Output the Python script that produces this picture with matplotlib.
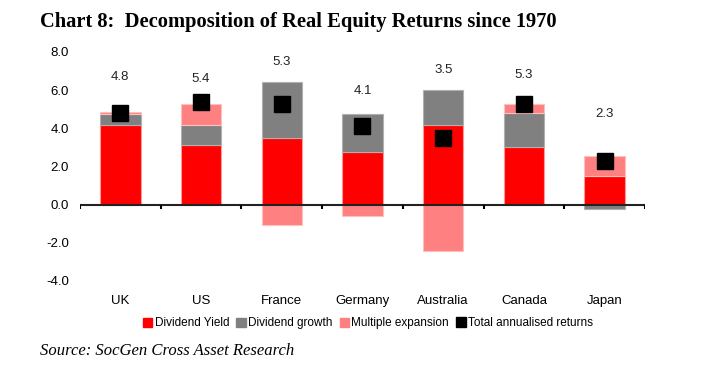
import numpy as np
import matplotlib.pyplot as plt
from matplotlib.patches import Patch
from matplotlib.lines import Line2D

# Datos
paises = ["UK", "US", "France", "Germany", "Australia", "Canada", "Japan"]
dividend_yield = [4.15, 3.15, 3.5, 2.75, 4.2, 3.0, 1.5]
dividend_growth = [0.6, 1.05, 2.95, 2.0, 1.8, 1.8, -0.25]
multiple_expansion = [0.1, 1.1, -1.05, -0.6, -2.45, 0.45, 1.05]
total_returns = [4.8, 5.4, 5.3, 4.1, 3.5, 5.3, 2.3]

# Desplazamiento vertical (en puntos) de cada etiqueta sobre la barra
label_offsets = [21, 13, 10, 12, 10, 17, 26]

plt.rcParams['font.family'] = ['Liberation Sans', 'DejaVu Sans']

fig = plt.figure(figsize=(7.13, 3.74), dpi=100)
ax = fig.add_axes([0.1122, 0.2487, 0.7924, 0.6123])

x = np.arange(len(paises))
ancho = 0.5
series = [dividend_yield, dividend_growth, multiple_expansion]
colores = ["#ff0000", "#808080", "#ff8080"]
bordes = ["#ff9a9a", "#b0b0b0", "#ffc0c0"]

pos_base = np.zeros(len(paises))
neg_base = np.zeros(len(paises))
for valores, color, borde in zip(series, colores, bordes):
    v = np.array(valores)
    base = np.where(v >= 0, pos_base, neg_base)
    ax.bar(x, v, ancho, bottom=base, color=color, edgecolor=borde, linewidth=0.8, zorder=2)
    pos_base = pos_base + np.where(v >= 0, v, 0)
    neg_base = neg_base + np.where(v < 0, v, 0)

ax.plot(x, total_returns, ls="none", marker="s", ms=11, color="black", zorder=4)

for xi, top, tot, off in zip(x, pos_base, total_returns, label_offsets):
    ax.annotate(f"{tot:.1f}", (xi, top), xytext=(0, off), textcoords="offset points",
                ha="center", va="bottom", fontsize=9.5, color="#222222")

# Eje en cero con marcas hacia abajo
ax.axhline(0, color="#222222", lw=1.5, zorder=3)
ax.vlines(np.arange(-0.5, len(paises)), -0.25, 0, color="black", lw=1.5, zorder=3)

ax.set_xlim(-0.5, len(paises) - 0.5)
ax.set_ylim(-4, 8)
ax.set_yticks(np.arange(-4, 9, 2))
ax.set_yticklabels([f"{v:.1f}" for v in np.arange(-4, 9, 2)], fontsize=9.5)
ax.set_xticks(x)
ax.set_xticklabels(paises, fontsize=9.5)
ax.tick_params(length=0, pad=8)
ax.tick_params(axis="x", pad=10)
for s in ax.spines.values():
    s.set_visible(False)

handles = [Patch(color=colores[0], label="Dividend Yield"),
           Patch(color=colores[1], label="Dividend growth"),
           Patch(color=colores[2], label="Multiple expansion"),
           Line2D([], [], ls="none", marker="s", ms=7, color="black", label="Total annualised returns")]
fig.legend(handles=handles, loc="center", bbox_to_anchor=(0.516, 0.136), ncol=4, frameon=False,
           fontsize=8.5, handlelength=0.8, handleheight=0.8, handletextpad=0.2, columnspacing=0.6)

fig.text(0.056, 0.928, "Chart 8:  Decomposition of Real Equity Returns since 1970",
         family="Liberation Serif", fontweight="bold", fontsize=14.8, va="baseline")
fig.text(0.056, 0.052, "Source: SocGen Cross Asset Research",
         family="Liberation Serif", style="italic", fontsize=12, va="baseline")

fig.savefig("out.png", dpi=100)
